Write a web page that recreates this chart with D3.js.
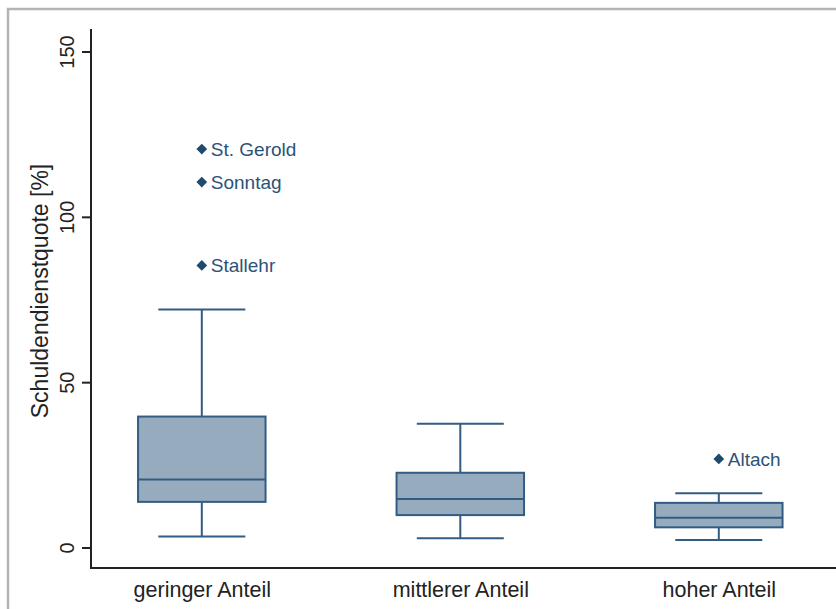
<!DOCTYPE html>
<html>
<head>
<meta charset="utf-8">
<script src="https://cdn.jsdelivr.net/npm/d3@7"></script>
<style>
  html, body { margin: 0; padding: 0; background: #fff; }
  svg { display: block; font-family: "Liberation Sans", Arial, sans-serif; }
</style>
</head>
<body>
<svg id="chart" width="836" height="609"></svg>
<script>
// ---- data ----
const categories = ["geringer Anteil", "mittlerer Anteil", "hoher Anteil"];
const lowerWhisker = [3.3, 2.8, 2.3];
const q1 = [13.8, 9.8, 6.1];
const median = [20.6, 14.7, 9.0];
const q3 = [39.6, 22.6, 13.5];
const upperWhisker = [72.0, 37.4, 16.4];
const outlierCategory = ["geringer Anteil", "geringer Anteil", "geringer Anteil", "hoher Anteil"];
const outlierValue = [120.5, 110.5, 85.3, 26.8];
const outlierName = ["St. Gerold", "Sonntag", "Stallehr", "Altach"];
const yTicks = [0, 50, 100, 150];
const yTitle = "Schuldendienstquote [%]";

// ---- layout ----
const svg = d3.select("#chart");
const axisX = 91, axisBottomY = 568, axisTopY = 29;
const boxColor = "#97abbe", lineColor = "#325c82", markColor = "#1f4a70";

// outer frame (partial, as in reference)
svg.append("path")
  .attr("d", "M8,609 L8,9 L836,9")
  .attr("fill", "none").attr("stroke", "#b4b4b4").attr("stroke-width", 2.5);

const y = d3.scaleLinear().domain([0, 150]).range([547.5, 51.5]);
const x = d3.scalePoint().domain(categories).range([201.8, 718.8]);
const boxW = 127.5, capW = 87;

const boxes = categories.map((c, i) => ({
  c, lo: lowerWhisker[i], q1: q1[i], med: median[i], q3: q3[i], hi: upperWhisker[i]
}));

const g = svg.append("g");
// whiskers
g.selectAll(".wl").data(boxes).join("line")
  .attr("x1", d => x(d.c)).attr("x2", d => x(d.c))
  .attr("y1", d => y(d.hi)).attr("y2", d => y(d.q3))
  .attr("stroke", lineColor).attr("stroke-width", 2);
g.selectAll(".wl2").data(boxes).join("line")
  .attr("x1", d => x(d.c)).attr("x2", d => x(d.c))
  .attr("y1", d => y(d.q1)).attr("y2", d => y(d.lo))
  .attr("stroke", lineColor).attr("stroke-width", 2);
// caps
g.selectAll(".capHi").data(boxes).join("line")
  .attr("x1", d => x(d.c) - capW / 2).attr("x2", d => x(d.c) + capW / 2)
  .attr("y1", d => y(d.hi)).attr("y2", d => y(d.hi))
  .attr("stroke", lineColor).attr("stroke-width", 2);
g.selectAll(".capLo").data(boxes).join("line")
  .attr("x1", d => x(d.c) - capW / 2).attr("x2", d => x(d.c) + capW / 2)
  .attr("y1", d => y(d.lo)).attr("y2", d => y(d.lo))
  .attr("stroke", lineColor).attr("stroke-width", 2);
// boxes
g.selectAll(".box").data(boxes).join("rect")
  .attr("x", d => x(d.c) - boxW / 2).attr("width", boxW)
  .attr("y", d => y(d.q3)).attr("height", d => y(d.q1) - y(d.q3))
  .attr("fill", boxColor).attr("stroke", lineColor).attr("stroke-width", 2);
// medians
g.selectAll(".med").data(boxes).join("line")
  .attr("x1", d => x(d.c) - boxW / 2).attr("x2", d => x(d.c) + boxW / 2)
  .attr("y1", d => y(d.med)).attr("y2", d => y(d.med))
  .attr("stroke", lineColor).attr("stroke-width", 2);

// outliers
const outliers = outlierValue.map((v, i) => ({ c: outlierCategory[i], v, name: outlierName[i] }));
const sym = d3.symbol().type(d3.symbolSquare).size(58);
g.selectAll(".out").data(outliers).join("path")
  .attr("d", sym())
  .attr("transform", d => `translate(${x(d.c)},${y(d.v)}) rotate(45)`)
  .attr("fill", markColor);
g.selectAll(".outLbl").data(outliers).join("text")
  .attr("x", d => x(d.c) + 9).attr("y", d => y(d.v))
  .attr("dy", "0.35em")
  .attr("font-size", 19).attr("fill", "#2b5378")
  .text(d => d.name);

// y axis
const yAxis = svg.append("g").attr("transform", `translate(${axisX},0)`)
  .call(d3.axisLeft(y).tickValues(yTicks).tickSize(9).tickFormat(d3.format("d")));
yAxis.select(".domain").remove();
yAxis.selectAll(".tick line").attr("stroke", "#222").attr("stroke-width", 2);
yAxis.selectAll(".tick text")
  .attr("x", null).attr("dy", null)
  .attr("transform", "translate(-17,0) rotate(-90)")
  .attr("text-anchor", "middle")
  .attr("font-size", 20).attr("fill", "#222");
svg.append("line")
  .attr("x1", axisX).attr("x2", axisX).attr("y1", axisTopY).attr("y2", axisBottomY + 1)
  .attr("stroke", "#222").attr("stroke-width", 2);

// x axis
const xAxis = svg.append("g").attr("transform", `translate(0,${axisBottomY})`)
  .call(d3.axisBottom(x).tickSize(0).tickPadding(0));
xAxis.select(".domain").remove();
xAxis.selectAll(".tick text")
  .attr("y", 29).attr("dy", null)
  .attr("font-size", 21.5).attr("fill", "#222");
svg.append("line")
  .attr("x1", axisX - 1).attr("x2", 836).attr("y1", axisBottomY).attr("y2", axisBottomY)
  .attr("stroke", "#222").attr("stroke-width", 2);

// y title
svg.append("text")
  .attr("transform", `translate(48,291) rotate(-90)`)
  .attr("text-anchor", "middle")
  .attr("font-size", 23).attr("fill", "#222")
  .text(yTitle);
</script>
</body>
</html>
